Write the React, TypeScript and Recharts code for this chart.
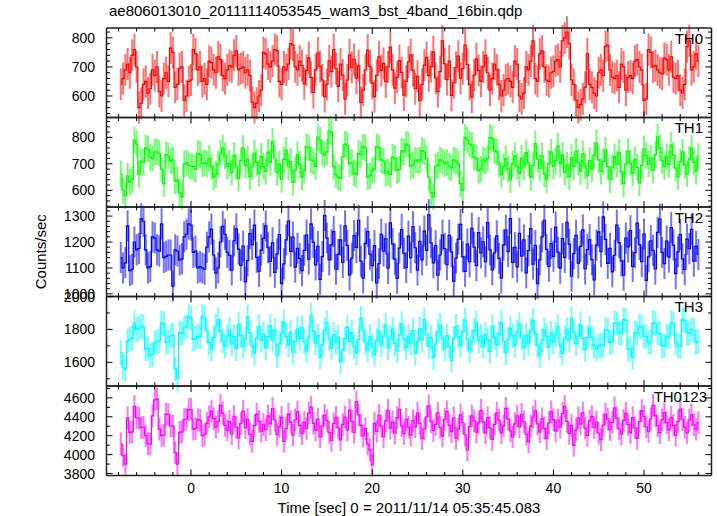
import { ComposedChart, Line, XAxis, YAxis, ErrorBar } from "recharts";

// light curve bins: 0.25 s, first bin centre at -7.75 s
const T_START = -7.75;
const BIN = 0.25;

const TH0 = [
  640, 660, 690, 710, 680, 740, 760, 700, 560, 575, 640, 650, 610, 625, 690, 670,
  700, 615, 600, 660, 680, 650, 765, 750, 630, 640, 695, 700, 585, 600, 650, 655,
  760, 745, 690, 700, 650, 660, 640, 720, 715, 690, 680, 735, 725, 670, 660, 690,
  705, 700, 740, 755, 690, 695, 700, 680, 690, 670, 580, 560, 575, 600, 620, 750,
  745, 710, 700, 720, 760, 755, 650, 640, 700, 690, 710, 780, 775, 700, 690, 720,
  705, 642, 688, 731, 664, 612, 690, 748, 702, 655, 598, 640, 721, 684, 760, 695,
  633, 710, 672, 590, 655, 742, 698, 726, 661, 704, 578, 620, 690, 758, 702, 644,
  598, 671, 735, 688, 712, 649, 700, 768, 690, 627, 664, 722, 681, 603, 650, 717,
  742, 689, 625, 668, 584, 640, 706, 733, 670, 701, 752, 662, 615, 684, 790, 711,
  656, 720, 602, 645, 698, 737, 661, 694, 775, 709, 640, 596, 672, 728, 688, 650,
  700, 740, 680, 620, 660, 710, 690, 640, 600, 620, 655, 660, 650, 630, 720, 710,
  600, 590, 610, 700, 690, 720, 790, 660, 650, 745, 755, 700, 655, 650, 680, 685,
  720, 725, 700, 790, 800, 820, 780, 655, 640, 585, 560, 570, 590, 630, 745, 640,
  630, 610, 600, 680, 690, 670, 770, 775, 690, 665, 660, 670, 630, 710, 700, 620,
  665, 670, 660, 720, 725, 700, 690, 585, 590, 760, 750, 700, 705, 690, 680, 675,
  730, 725, 690, 735, 665, 660, 670, 620, 610, 640, 770, 790, 690, 700, 745, 720,
];

const TH1 = [
  662, 600, 580, 655, 630, 640, 790, 775, 660, 710, 705, 760, 755, 725, 720, 745,
  745, 740, 680, 625, 735, 730, 710, 715, 635, 640, 590, 575, 700, 705, 695, 690,
  690, 680, 740, 735, 700, 705, 700, 720, 690, 650, 660, 700, 740, 760, 730, 690,
  702, 668, 731, 689, 645, 712, 760, 694, 718, 652, 689, 741, 705, 663, 728, 690,
  671, 744, 706, 785, 722, 668, 699, 641, 717, 752, 688, 709, 630, 676, 735, 698,
  650, 675, 765, 760, 715, 710, 690, 800, 790, 740, 735, 745, 825, 820, 690, 660,
  650, 645, 725, 775, 770, 700, 705, 665, 660, 740, 735, 765, 760, 650, 655, 675,
  680, 765, 760, 715, 710, 665, 670, 660, 725, 720, 675, 680, 750, 745, 775, 770,
  690, 695, 715, 710, 715, 750, 745, 720, 650, 590, 575, 690, 695, 715, 710, 700,
  705, 690, 685, 715, 710, 700, 625, 600, 800, 790, 775, 770, 725, 720, 675, 680,
  715, 710, 720, 800, 795, 750, 745, 700, 660, 690, 720, 680, 640, 700, 730, 690,
  664, 721, 688, 742, 705, 650, 693, 776, 718, 684, 731, 662, 640, 702, 745, 690,
  712, 768, 701, 733, 668, 695, 652, 724, 689, 747, 706, 671, 738, 692, 655, 712,
  681, 734, 778, 715, 672, 709, 752, 690, 640, 688, 727, 698, 743, 670, 625, 700,
  748, 703, 664, 716, 687, 628, 694, 757, 731, 699, 722, 676, 735, 802, 760, 712,
  689, 727, 698, 771, 733, 684, 652, 708, 745, 695, 662, 718, 759, 705, 672, 728,
];

const TH2 = [
  1140, 1100, 1120, 1262, 1090, 1095, 1200, 1170, 1175, 1290, 1280, 1170, 1100, 1105, 1220, 1215,
  1170, 1165, 1270, 1140, 1145, 1150, 1150, 1030, 1170, 1165, 1130, 1135, 1220, 1230, 1270, 1265,
  1160, 1165, 1100, 1105, 1100, 1095, 1180, 1220, 1250, 1150, 1080, 1100, 1200, 1260, 1230, 1160,
  1148, 1092, 1205, 1251, 1173, 1110, 1184, 1046, 1128, 1232, 1190, 1265, 1141, 1087, 1169, 1214,
  1262, 1178, 1125, 1197, 1083, 1154, 1229, 1040, 1116, 1208, 1281, 1164, 1219, 1103, 1176, 1137,
  1090, 1168, 1227, 1134, 1270, 1199, 1112, 1183, 1056, 1144, 1302, 1216, 1131, 1189, 1240, 1095,
  1152, 1208, 1121, 1262, 1187, 1073, 1138, 1225, 1179, 1284, 1126, 1061, 1195, 1240, 1153, 1109,
  1186, 1042, 1117, 1230, 1165, 1212, 1099, 1274, 1193, 1134, 1060, 1177, 1248, 1156, 1101, 1223,
  1140, 1259, 1178, 1092, 1203, 1131, 1242, 1168, 1305, 1197, 1120, 1186, 1072, 1150, 1227, 1175,
  1113, 1226, 1162, 1049, 1138, 1211, 1268, 1143, 1087, 1192, 1124, 1253, 1180, 1109, 1236, 1158,
  1201, 1124, 1275, 1170, 1093, 1158, 1224, 1137, 1062, 1189, 1246, 1163, 1290, 1121, 1179, 1104,
  1233, 1146, 1208, 1081, 1167, 1252, 1115, 1187, 1040, 1131, 1220, 1284, 1172, 1106, 1194, 1145,
  1258, 1161, 1099, 1213, 1140, 1276, 1192, 1068, 1155, 1226, 1119, 1183, 1247, 1096, 1171, 1209,
  1132, 1054, 1188, 1239, 1163, 1297, 1210, 1118, 1176, 1085, 1149, 1265, 1198, 1127, 1072, 1215,
  1181, 1244, 1106, 1159, 1273, 1190, 1124, 1231, 1052, 1143, 1205, 1168, 1096, 1237, 1288, 1160,
  1117, 1204, 1142, 1256, 1188, 1078, 1162, 1229, 1135, 1094, 1211, 1174, 1249, 1126, 1183, 1152,
];

const TH3 = [
  1660, 1570, 1560, 1730, 1740, 1745, 1840, 1800, 1805, 1820, 1815, 1680, 1685, 1640, 1645, 1720,
  1725, 1730, 1840, 1835, 1720, 1725, 1760, 1765, 1560, 1500, 1780, 1775, 1810, 1815, 1880, 1870,
  1740, 1745, 1760, 1755, 1880, 1870, 1790, 1720, 1680, 1750, 1820, 1860, 1790, 1730, 1700, 1760,
  1796, 1712, 1758, 1683, 1830, 1764, 1697, 1741, 1875, 1780, 1702, 1656, 1749, 1815, 1733, 1772,
  1688, 1757, 1821, 1735, 1794, 1640, 1712, 1778, 1846, 1759, 1705, 1783, 1661, 1727, 1804, 1746,
  1810, 1724, 1669, 1752, 1887, 1790, 1716, 1762, 1630, 1708, 1796, 1841, 1743, 1685, 1769, 1722,
  1753, 1601, 1678, 1744, 1812, 1726, 1781, 1694, 1657, 1739, 1868, 1795, 1720, 1676, 1756, 1702,
  1645, 1733, 1791, 1704, 1760, 1827, 1689, 1748, 1802, 1715, 1671, 1767, 1834, 1742, 1690, 1759,
  1715, 1792, 1654, 1726, 1803, 1737, 1861, 1773, 1697, 1751, 1629, 1710, 1787, 1826, 1744, 1681,
  1762, 1698, 1612, 1744, 1819, 1756, 1702, 1788, 1856, 1739, 1675, 1727, 1793, 1840, 1728, 1760,
  1694, 1771, 1735, 1667, 1819, 1752, 1706, 1776, 1842, 1728, 1658, 1740, 1808, 1763, 1701, 1785,
  1830, 1748, 1689, 1767, 1712, 1795, 1853, 1771, 1704, 1641, 1736, 1799, 1758, 1690, 1777, 1724,
  1768, 1815, 1701, 1654, 1747, 1801, 1735, 1869, 1782, 1713, 1760, 1829, 1746, 1678, 1752, 1808,
  1750, 1700, 1680, 1700, 1705, 1700, 1800, 1795, 1720, 1725, 1840, 1835, 1780, 1775, 1860, 1855,
  1680, 1685, 1630, 1780, 1775, 1820, 1815, 1760, 1755, 1720, 1725, 1840, 1835, 1780, 1775, 1700,
  1700, 1760, 1755, 1840, 1835, 1720, 1700, 1695, 1860, 1855, 1780, 1775, 1800, 1795, 1720, 1725,
];

const TH0123 = [
  4115, 3990, 3900, 4390, 4235, 4240, 4510, 4390, 4385, 4285, 4290, 4200, 4115, 4110, 4410, 4580,
  4590, 4270, 4200, 4205, 4430, 4425, 4300, 4305, 4020, 3900, 4235, 4240, 4370, 4375, 4475, 4480,
  4270, 4275, 4370, 4365, 4200, 4210, 4330, 4400, 4460, 4380, 4290, 4350, 4520, 4440, 4310, 4260,
  4352, 4218, 4405, 4290, 4176, 4331, 4460, 4285, 4372, 4215, 4139, 4306, 4428, 4351, 4247, 4318,
  4263, 4410, 4325, 4488, 4366, 4212, 4297, 4394, 4140, 4278, 4431, 4343, 4205, 4369, 4452, 4309,
  4221, 4345, 4277, 4439, 4502, 4330, 4258, 4376, 4188, 4301, 4417, 4362, 4236, 4150, 4328, 4394,
  4284, 4156, 4319, 4398, 4262, 4471, 4352, 4235, 4560, 4420, 4310, 4198, 4275, 4110, 4050, 3890,
  4330, 4246, 4415, 4302, 4188, 4358, 4469, 4281, 4347, 4226, 4392, 4480, 4305, 4223, 4374, 4290,
  4207, 4361, 4294, 4438, 4332, 4169, 4270, 4400, 4515, 4348, 4255, 4319, 4441, 4287, 4196, 4372,
  4455, 4309, 4243, 4388, 4172, 4270, 4421, 4337, 4210, 4050, 4296, 4410, 4358, 4239, 4335, 4468,
  4346, 4228, 4391, 4285, 4160, 4319, 4443, 4364, 4230, 4305, 4490, 4378, 4252, 4188, 4326, 4409,
  4293, 4427, 4350, 4216, 4135, 4302, 4398, 4462, 4325, 4241, 4380, 4279, 4170, 4335, 4454, 4370,
  4248, 4366, 4290, 4435, 4510, 4352, 4224, 4310, 4097, 4262, 4389, 4323, 4441, 4281, 4204, 4357,
  4403, 4286, 4345, 4226, 4158, 4312, 4430, 4376, 4265, 4340, 4495, 4388, 4271, 4216, 4362, 4437,
  4318, 4230, 4391, 4282, 4171, 4350, 4466, 4404, 4295, 4242, 4378, 4522, 4410, 4307, 4233, 4369,
  4445, 4338, 4262, 4395, 4310, 4206, 4352, 4480, 4374, 4288, 4230, 4366, 4421, 4315, 4269, 4340,
];

// typical 1-sigma half-length of the error bars, per band
const ERR_TH0 = 55;
const ERR_TH1 = 50;
const ERR_TH2 = 60;
const ERR_TH3 = 75;
const ERR_TH0123 = 120;

const TITLE = "ae806013010_20111114053545_wam3_bst_4band_16bin.qdp";
const X_TITLE = "Time [sec] 0 = 2011/11/14 05:35:45.083";
const Y_TITLE = "Counts/sec";

const W = 717;
const H = 516;
const PLOT_LEFT = 106.5;
const PLOT_RIGHT = 711.5;
const PANEL_EDGES = [28, 117.5, 207, 296.5, 386, 475.5];
const X_DOMAIN: [number, number] = [-9.33, 57.45];
const FONT = "'Liberation Sans', Arial, Helvetica, sans-serif";
const FRAME = "#222";

// axis box sizes (ticks are drawn inward by the custom tick renderers)
const LEFT_W = 40;
const RIGHT_W = 5;
const BOTTOM_H = 20;
const TOP_H = 5;

function range(lo: number, hi: number, step: number) {
  const out: number[] = [];
  for (let v = lo; v <= hi + 1e-9; v += step) out.push(Math.round(v * 1000) / 1000);
  return out;
}

const X_TICKS = range(-8, 56, 2);

const PANELS = [
  { name: "TH0", values: TH0, err: ERR_TH0, color: "#ff0000", domain: [526, 834], minor: 20, major: 100, labelX: 703 },
  { name: "TH1", values: TH1, err: ERR_TH1, color: "#00ff00", domain: [537, 875], minor: 20, major: 100, labelX: 703 },
  { name: "TH2", values: TH2, err: ERR_TH2, color: "#0000ff", domain: [990, 1335], minor: 20, major: 100, labelX: 703 },
  { name: "TH3", values: TH3, err: ERR_TH3, color: "#00ffff", domain: [1456, 2000], minor: 100, major: 200, labelX: 703 },
  { name: "TH0123", values: TH0123, err: ERR_TH0123, color: "#ff00ff", domain: [3779, 4726], minor: 100, major: 200, labelX: 707 },
];

function XTick(props: any) {
  const { x, y, payload, side, showLabel } = props;
  const v = payload.value;
  const major = Math.abs(v % 10) < 1e-6;
  const len = major ? 6 : 3.5;
  const y2 = side === "bottom" ? y - len : y + len;
  return (
    <g>
      <line x1={x} y1={y} x2={x} y2={y2} stroke="#000" strokeWidth={1} />
      {showLabel && major && (
        <text x={x} y={y + 17.5} textAnchor="middle" fontSize={14} fontFamily={FONT} fill="#000">
          {v}
        </text>
      )}
    </g>
  );
}

function YTick(props: any) {
  const { x, y, payload, side, major } = props;
  const v = payload.value;
  const isMajor = Math.abs(v % major) < 1e-6;
  const len = isMajor ? 6 : 3.5;
  const x2 = side === "left" ? x + len : x - len;
  return (
    <g>
      <line x1={x} y1={y} x2={x2} y2={y} stroke="#000" strokeWidth={1} />
      {side === "left" && isMajor && (
        <text x={x - 11.5} y={y + 5} textAnchor="end" fontSize={14} fontFamily={FONT} fill="#000">
          {v}
        </text>
      )}
    </g>
  );
}

function Panel({ panel, index }: { panel: (typeof PANELS)[number]; index: number }) {
  const top = PANEL_EDGES[index];
  const bottom = PANEL_EDGES[index + 1];
  const isLast = index === PANELS.length - 1;
  const data = panel.values.map((v, i) => ({ t: T_START + i * BIN, v, e: panel.err }));
  const [lo, hi] = panel.domain;
  const yTicks = range(Math.ceil(lo / panel.minor) * panel.minor, hi, panel.minor);
  const axisLine = { stroke: FRAME, strokeWidth: 1.5 };

  return (
    <div style={{ position: "absolute", left: 0, top: 0 }}>
      <ComposedChart
        width={W}
        height={H}
        data={data}
        margin={{
          top: top - TOP_H,
          bottom: H - bottom - BOTTOM_H,
          left: PLOT_LEFT - LEFT_W,
          right: W - PLOT_RIGHT - RIGHT_W,
        }}
      >
        <XAxis
          xAxisId="b"
          type="number"
          dataKey="t"
          domain={X_DOMAIN}
          ticks={X_TICKS}
          interval={0}
          allowDataOverflow
          height={BOTTOM_H}
          tickSize={0}
          tickMargin={0}
          tickLine={false}
          axisLine={axisLine}
          tick={(p: any) => <XTick {...p} side="bottom" showLabel={isLast} />}
        />
        <XAxis
          xAxisId="t"
          orientation="top"
          type="number"
          dataKey="t"
          domain={X_DOMAIN}
          ticks={X_TICKS}
          interval={0}
          allowDataOverflow
          height={TOP_H}
          tickSize={0}
          tickMargin={0}
          tickLine={false}
          axisLine={axisLine}
          tick={(p: any) => <XTick {...p} side="top" showLabel={false} />}
        />
        <YAxis
          yAxisId="l"
          type="number"
          domain={panel.domain}
          ticks={yTicks}
          interval={0}
          allowDataOverflow
          width={LEFT_W}
          tickSize={0}
          tickMargin={0}
          tickLine={false}
          axisLine={axisLine}
          tick={(p: any) => <YTick {...p} side="left" major={panel.major} />}
        />
        <YAxis
          yAxisId="r"
          orientation="right"
          type="number"
          domain={panel.domain}
          ticks={yTicks}
          interval={0}
          allowDataOverflow
          width={RIGHT_W}
          tickSize={0}
          tickMargin={0}
          tickLine={false}
          axisLine={axisLine}
          tick={(p: any) => <YTick {...p} side="right" major={panel.major} />}
        />
        <Line
          xAxisId="b"
          yAxisId="l"
          type="step"
          dataKey="v"
          stroke={panel.color}
          strokeWidth={1.2}
          dot={false}
          activeDot={false}
          isAnimationActive={false}
        >
          <ErrorBar
            dataKey="e"
            direction="y"
            width={0}
            stroke={panel.color}
            strokeWidth={2}
            strokeOpacity={0.55}
            isAnimationActive={false}
          />
        </Line>
      </ComposedChart>
      <svg width={W} height={H} style={{ position: "absolute", left: 0, top: 0, pointerEvents: "none" }}>
        <text x={panel.labelX} y={top + 15.5} textAnchor="end" fontSize={15} fontFamily={FONT} fill="#000">
          {panel.name}
        </text>
      </svg>
    </div>
  );
}

export default function App() {
  const midY = (PANEL_EDGES[0] + PANEL_EDGES[PANEL_EDGES.length - 1]) / 2;
  return (
    <div
      style={{
        position: "absolute",
        left: 0,
        top: 0,
        width: W,
        height: H,
        background: "#fff",
        fontFamily: FONT,
      }}
    >
      {PANELS.map((p, i) => (
        <Panel key={p.name} panel={p} index={i} />
      ))}
      <svg width={W} height={H} style={{ position: "absolute", left: 0, top: 0, pointerEvents: "none" }}>
        <text x={109} y={16} fontSize={15} fontFamily={FONT} fill="#000">
          {TITLE}
        </text>
        <text x={(PLOT_LEFT + PLOT_RIGHT) / 2} y={513} textAnchor="middle" fontSize={15} fontFamily={FONT} fill="#000">
          {X_TITLE}
        </text>
        <text
          x={46}
          y={midY}
          transform={`rotate(-90 46 ${midY})`}
          textAnchor="middle"
          fontSize={15}
          fontFamily={FONT}
          fill="#000"
        >
          {Y_TITLE}
        </text>
      </svg>
    </div>
  );
}
